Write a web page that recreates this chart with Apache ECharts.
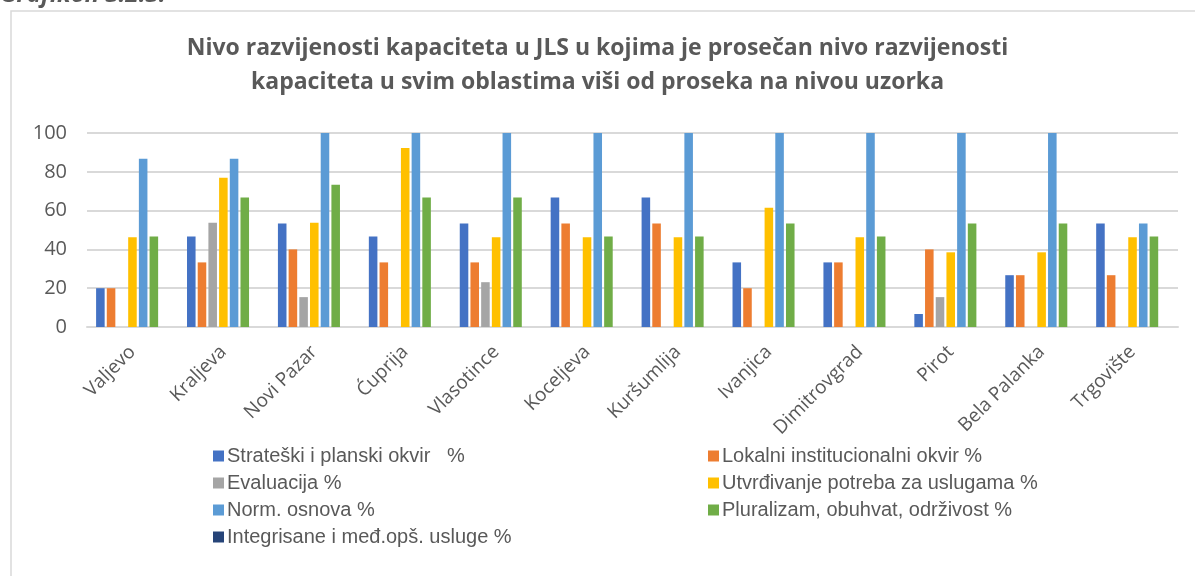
<!DOCTYPE html>
<html>
<head>
<meta charset="utf-8">
<script src="https://cdn.jsdelivr.net/npm/echarts@6/dist/echarts.min.js"></script>
<style>
  html, body { margin: 0; padding: 0; background: #fff; }
  #chart { width: 1195px; height: 576px; }
</style>
</head>
<body>
<div id="chart"></div>
<script>
// kategorije (JLS)
const categories = ['Valjevo', 'Kraljeva', 'Novi Pazar', 'Ćuprija', 'Vlasotince', 'Koceljeva',
  'Kuršumlija', 'Ivanjica', 'Dimitrovgrad', 'Pirot', 'Bela Palanka', 'Trgovište'];

const seriesNames = [
  'Strateški i planski okvir   %',
  'Lokalni institucionalni okvir %',
  'Evaluacija %',
  'Utvrđivanje potreba za uslugama %',
  'Norm. osnova %',
  'Pluralizam, obuhvat, održivost %',
  'Integrisane i međ.opš. usluge %'
];

const strateski   = [20, 46.7, 53.3, 46.7, 53.3, 66.7, 66.7, 33.3, 33.3, 6.7, 26.7, 53.3];
const lokalni     = [20, 33.3, 40, 33.3, 33.3, 53.3, 53.3, 20, 33.3, 40, 26.7, 26.7];
const evaluacija  = [0, 53.8, 15.4, 0, 23.1, 0, 0, 0, 0, 15.4, 0, 0];
const utvrdjivanje = [46.2, 76.9, 53.8, 92.3, 46.2, 46.2, 46.2, 61.5, 46.2, 38.5, 38.5, 46.2];
const normOsnova  = [86.7, 86.7, 100, 100, 100, 100, 100, 100, 100, 100, 100, 53.3];
const pluralizam  = [46.7, 66.7, 73.3, 66.7, 66.7, 46.7, 46.7, 53.3, 46.7, 53.3, 53.3, 46.7];
const integrisane = [0, 0, 0, 0, 0, 0, 0, 0, 0, 0, 0, 0];

const yTicks = [0, 20, 40, 60, 80, 100];

const allData = [strateski, lokalni, evaluacija, utvrdjivanje, normOsnova, pluralizam, integrisane];
const colors = ['#4472C4', '#ED7D31', '#A5A5A5', '#FFC000', '#5B9BD5', '#70AD47', '#264478'];

const textGray = '#595959';
const gridGray = '#d9d9d9';

const chart = echarts.init(document.getElementById('chart'));

const legendStyle = {
  orient: 'vertical',
  icon: 'rect',
  padding: 0,
  itemWidth: 11,
  itemHeight: 11,
  itemGap: 7,
  textStyle: {
    fontFamily: '"Liberation Sans Narrow", "Liberation Sans", Arial, sans-serif',
    fontSize: 20,
    lineHeight: 20,
    color: textGray,
    padding: [0, 0, 0, -2]
  }
};

chart.setOption({
  animation: false,
  color: colors,
  title: {
    text: 'Nivo razvijenosti kapaciteta u JLS u kojima je prosečan nivo razvijenosti\nkapaciteta u svim oblastima viši od proseka na nivou uzorka',
    left: 'center',
    top: 26,
    textStyle: {
      fontFamily: '"Open Sans", sans-serif',
      fontWeight: 'bold',
      fontSize: 23,
      lineHeight: 34,
      color: textGray
    }
  },
  graphic: [
    {
      type: 'rect',
      shape: { x: 11, y: 11, width: 1190, height: 580 },
      style: { fill: 'none', stroke: gridGray, lineWidth: 1.5 },
      silent: true
    },
    {
      type: 'text',
      left: 0,
      top: -17,
      style: {
        text: 'Grafikon 3.2.3.',
        fontFamily: '"Open Sans", sans-serif',
        fontStyle: 'italic',
        fontWeight: 'bold',
        fontSize: 24,
        fill: textGray
      }
    }
  ],
  legend: [
    Object.assign({}, legendStyle, {
      left: 213,
      top: 446,
      data: [seriesNames[0], seriesNames[2], seriesNames[4], seriesNames[6]]
    }),
    Object.assign({}, legendStyle, {
      left: 708,
      top: 446,
      data: [seriesNames[1], seriesNames[3], seriesNames[5]]
    })
  ],
  grid: {
    left: 87,
    right: 17,
    top: 133,
    bottom: 249
  },
  xAxis: {
    type: 'category',
    data: categories,
    axisLine: { lineStyle: { color: gridGray, width: 2 } },
    axisTick: { show: false },
    axisLabel: {
      rotate: 45,
      interval: 0,
      margin: 22,
      fontFamily: '"Open Sans", sans-serif',
      fontSize: 19,
      color: textGray
    }
  },
  yAxis: {
    type: 'value',
    min: yTicks[0],
    max: yTicks[yTicks.length - 1],
    interval: 20,
    axisLine: { show: false },
    axisTick: { show: false },
    splitLine: { lineStyle: { color: gridGray, width: 2 } },
    axisLabel: {
      margin: 20,
      fontFamily: '"Open Sans", sans-serif',
      fontSize: 20,
      color: textGray
    }
  },
  series: seriesNames.map((name, i) => ({
    name: name,
    type: 'bar',
    data: allData[i],
    barGap: '25%',
    barCategoryGap: '20%',
    itemStyle: { color: colors[i] }
  }))
});
</script>
</body>
</html>
